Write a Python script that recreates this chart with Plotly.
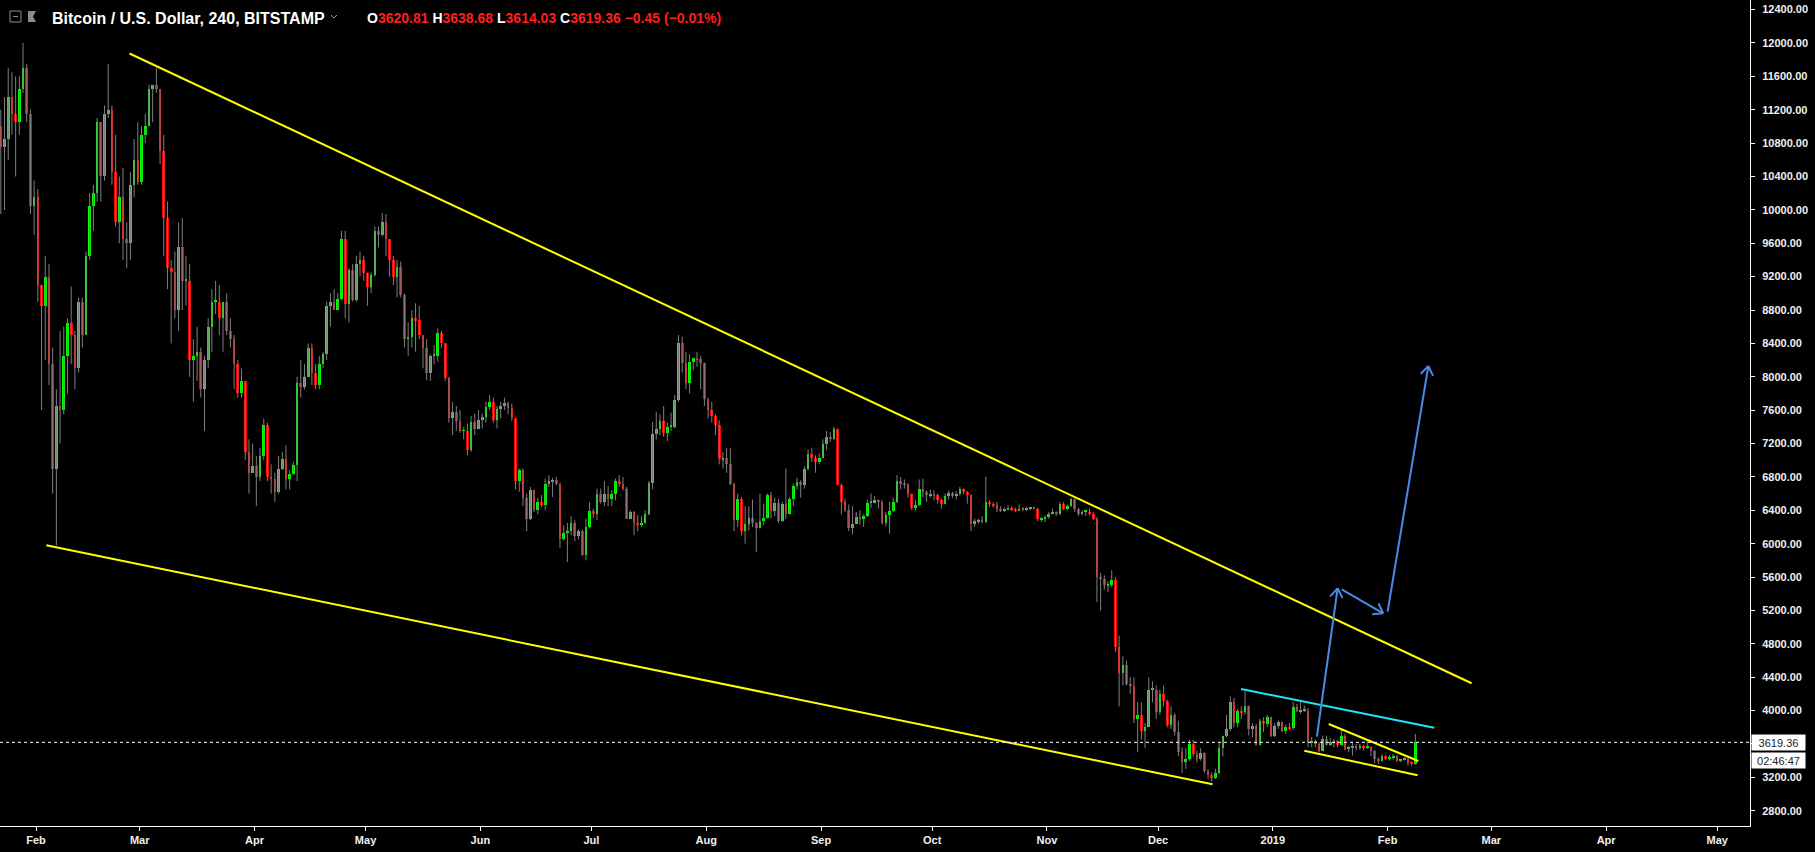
import math
import pandas as pd
import plotly.graph_objects as go

# ---------------- data (daily candles) ----------------
first_day = "2018-01-22 12:00"

opens = [
    [11000,10750,10850,11350,11150,11050,11450,11700,11150,10050],
    [10150,9100,8850,9200,8150,6900,7650,7600,8250,8650,8500,8100,8900,8500,9450,10050,10200,11050,10400,11150,11200,10450,9850,10150,9650,9600,10300,10600],
    [10330,10900,11000,11450,11500,11450,10700,9900,9300,9250,8800,9550,9150,9150,8200,8250,8300,7850,8200,8600,8900,8900,8700,8900,8550,8450,8150,7800,7950,7100,6850],
    [6930,6800,7050,7420,6800,6780,6620,6900,7020,6770,6840,6940,7920,7880,8000,8350,8050,7900,8150,8270,8850,8900,8800,8930,9650,8870,9280,8920,9350,9400],
    [9240,9070,9220,9750,9700,9850,9650,9400,9200,9320,8980,8450,8480,8700,8680,8500,8350,8050,8250,8250,8530,8400,7980,7500,7580,7470,7350,7350,7120,7460,7380],
    [7480,7520,7640,7700,7480,7610,7650,7680,7620,7500,6750,6880,6550,6300,6640,6400,6500,6460,6720,6750,6760,6720,6060,6130,6150,6250,6090,6150,5870,6200],
    [6390,6350,6600,6500,6600,6530,6600,6750,6710,6660,6300,6380,6250,6220,6250,6350,6730,7320,7380,7470,7330,7400,7400,7720,8400,8170,7930,8180,8220,8210,8170],
    [7730,7600,7530,7420,7010,7030,6950,6720,6280,6540,6150,6240,6310,6250,6190,6270,6310,6580,6390,6490,6270,6480,6360,6530,6690,6740,6700,6900,7080,7030,6980],
    [7030,7190,7280,7260,7370,6700,6500,6400,6190,6240,6320,6290,6330,6490,6490,6520,6500,6250,6340,6390,6500,6750,6720,6710,6590,6430,6460,6650,6620,6580],
    [6600,6580,6520,6480,6570,6610,6570,6600,6650,6620,6580,6230,6270,6270,6260,6500,6480,6460,6410,6400,6410,6420,6410,6400,6420,6410,6420,6430,6420,6290,6300],
    [6320,6360,6380,6360,6480,6420,6450,6530,6410,6350,6380,6380,6360,6300,5600,5580,5500,5500,5560,4760,4450,4550,4320,4300,3900,3950,3750,3800,4250,4250],
    [3980,4200,4120,3830,3950,3740,3500,3380,3420,3600,3480,3420,3490,3270,3230,3190,3250,3550,3690,3780,4100,3850,4000,3980,4050,3780,3820,3590,3880,3840,3920],
    [3700,3820,3860,3760,3800,3790,4040,3990,4000,4000,3620,3630,3600,3520,3660,3590,3620,3640,3590,3700,3540,3550,3580,3550,3580,3560,3560,3520,3420,3400,3450],
    [3430,3440,3460,3400,3410,3420,3370,3360],
]
highs = [
    [11200,11350,11700,11650,11600,11600,12000,11750,11200,10350],
    [10250,9100,9450,9350,8350,7850,8550,8600,8700,9080,8550,8950,8950,9500,10200,10300,11100,11050,11250,11750,11250,10900,10400,10500,9850,10450,10850,11050],
    [11000,11150,11500,11500,11700,11450,10900,10100,9400,9500,9850,9900,9450,9350,8450,8600,8350,8250,8700,9050,9150,9100,8900,9000,8700,8500,8200,8100,7950,7250,7200],
    [7050,7150,7500,7450,6950,6850,7050,7100,7180,6880,6980,8000,8200,8150,8400,8400,8150,8250,8300,8900,9000,9050,9000,9750,9750,9300,9350,9450,9500,9450],
    [9250,9250,9800,9800,9960,9950,9650,9450,9400,9380,9000,8650,8800,8880,8850,8500,8450,8270,8380,8580,8550,8400,8000,7700,7650,7600,7400,7440,7530,7560,7600],
    [7560,7700,7780,7750,7650,7700,7750,7700,7680,7500,6900,6900,6600,6680,6650,6550,6580,6780,6820,6790,6800,6730,6220,6250,6330,6280,6170,6170,6300,6500],
    [6420,6660,6660,6750,6690,6640,6780,6820,6800,6680,6400,6390,6340,6330,6400,6750,7460,7580,7550,7650,7450,7570,7780,8500,8480,8300,8270,8230,8300,8250,8170],
    [7750,7700,7550,7480,7100,7150,7150,6730,6600,6560,6450,6450,6530,6260,6600,6480,6600,6620,6550,6530,6500,6900,6560,6720,6790,6760,6930,7130,7150,7060,7080],
    [7250,7350,7340,7400,7380,6720,6540,6470,6450,6380,6400,6350,6530,6600,6570,6530,6520,6380,6500,6550,6820,6800,6770,6720,6600,6520,6770,6780,6640,6650],
    [6640,6600,6540,6600,6640,6620,6630,6680,6660,6630,6590,6300,6300,6330,6800,6520,6500,6500,6450,6430,6460,6450,6430,6470,6440,6440,6440,6440,6430,6320,6340],
    [6380,6420,6390,6500,6500,6470,6550,6540,6430,6400,6400,6420,6380,6320,5650,5620,5550,5680,5600,4900,4650,4600,4400,4400,4100,4100,3850,4400,4350,4300],
    [4250,4300,4130,4050,3970,3880,3560,3550,3650,3650,3520,3550,3500,3300,3260,3300,3620,3700,3950,4170,4150,4020,4050,4230,4060,3850,3840,3900,3920,3950,3930],
    [3850,3880,3870,3830,3850,4100,4080,4100,4060,4030,3680,3650,3620,3700,3700,3670,3660,3650,3770,3720,3580,3620,3600,3600,3590,3650,3570,3530,3440,3480,3470],
    [3470,3480,3470,3420,3440,3430,3390,3720],
]
lows = [
    [9950,10000,10600,10900,10400,10900,11400,11050,9950,9700],
    [8900,7600,8200,7900,6600,5980,7200,7550,7800,8150,7850,8050,8350,8500,9400,9750,10100,10100,10350,11100,10300,9800,9600,9400,9300,9400,10150,10300],
    [10300,10800,11000,11050,11400,10550,9450,9050,8400,8700,8550,8800,8850,8000,7700,7950,7750,7350,8100,8300,8750,8500,8300,8500,8350,7850,7750,7750,7000,6600,6850],
    [6450,6750,7000,6750,6600,6500,6600,6880,6650,6650,6830,6750,7750,7850,8000,7900,7850,7850,8100,8200,8600,8800,8800,8920,8700,8650,8900,8900,9200,9150],
    [8850,9000,9200,9550,9680,9450,9200,9100,8950,8950,8350,8250,8350,8300,8450,8100,7960,7950,8150,8180,8350,7950,7450,7300,7350,7330,7250,7060,7100,7300,7370],
    [7380,7450,7600,7450,7380,7500,7600,7550,7470,6650,6620,6450,6150,6280,6380,6350,6440,6400,6680,6560,6700,5950,6040,5780,6100,6030,6050,5850,5800,6180],
    [6300,6280,6480,6450,6450,6450,6520,6680,6640,6300,6300,6100,6150,6200,6240,6340,6650,7250,7300,7280,7230,7350,7380,7700,8050,7850,7800,8080,8120,7850,7650],
    [7500,7450,7300,6950,6900,6850,6700,6150,6200,6100,6000,6160,6200,5900,6180,6220,6300,6300,6330,6250,6260,6300,6350,6450,6650,6550,6660,6880,6980,6850,6950],
    [7020,7120,7220,7240,6700,6350,6380,6150,6110,6240,6230,6200,6320,6430,6480,6420,6230,6210,6120,6380,6490,6650,6660,6550,6400,6400,6450,6560,6500,6550],
    [6520,6480,6420,6470,6530,6550,6530,6580,6590,6480,6150,6200,6240,6240,6250,6440,6430,6380,6380,6380,6400,6390,6380,6390,6390,6390,6400,6410,6270,6260,6260],
    [6300,6350,6330,6340,6400,6400,6440,6380,6330,6340,6330,6340,6280,5300,5200,5450,5420,5480,4700,4050,4300,4300,4200,3850,3500,3650,3550,3800,4100,3900],
    [3950,4050,3800,3780,3700,3450,3250,3300,3400,3450,3380,3400,3250,3180,3150,3180,3240,3450,3680,3750,3800,3800,3900,3950,3700,3680,3580,3580,3740,3800,3680],
    [3680,3780,3740,3720,3770,3770,3980,3960,3980,3560,3560,3560,3500,3510,3580,3580,3560,3560,3580,3520,3500,3460,3520,3530,3520,3540,3450,3370,3360,3390,3410],
    [3400,3410,3380,3380,3400,3340,3340,3350],
]
closes = [
    [10750,10850,11350,11150,11050,11450,11700,11150,10050,10150],
    [9100,8850,9200,8150,6900,7650,7600,8250,8650,8500,8100,8900,8500,9450,10050,10200,11050,10400,11150,11200,10450,9850,10150,9650,9600,10300,10600,10330],
    [10900,11000,11450,11500,11450,10700,9900,9300,9250,8800,9550,9150,9150,8200,8250,8300,7850,8200,8600,8900,8900,8700,8900,8550,8450,8150,7800,7950,7100,6850,6930],
    [6800,7050,7420,6800,6780,6620,6900,7020,6770,6840,6940,7920,7880,8000,8350,8050,7900,8150,8270,8850,8900,8800,8930,9650,8870,9280,8920,9350,9400,9240],
    [9070,9220,9750,9700,9850,9650,9400,9200,9320,8980,8450,8480,8700,8680,8500,8350,8050,8250,8250,8530,8400,7980,7500,7580,7470,7350,7350,7120,7460,7380,7480],
    [7520,7640,7700,7480,7610,7650,7680,7620,7500,6750,6880,6550,6300,6640,6400,6500,6460,6720,6750,6760,6720,6060,6130,6150,6250,6090,6150,5870,6200,6390],
    [6350,6600,6500,6600,6530,6600,6750,6710,6660,6300,6380,6250,6220,6250,6350,6730,7320,7380,7470,7330,7400,7400,7720,8400,8170,7930,8180,8220,8210,8170,7730],
    [7600,7530,7420,7010,7030,6950,6720,6280,6540,6150,6240,6310,6250,6190,6270,6310,6580,6390,6490,6270,6480,6360,6530,6690,6740,6700,6900,7080,7030,6980,7030],
    [7190,7280,7260,7370,6700,6500,6400,6190,6240,6320,6290,6330,6490,6490,6520,6500,6250,6340,6390,6500,6750,6720,6710,6590,6430,6460,6650,6620,6580,6600],
    [6580,6520,6480,6570,6610,6570,6600,6650,6620,6580,6230,6270,6270,6260,6500,6480,6460,6410,6400,6410,6420,6410,6400,6420,6410,6420,6430,6420,6290,6300,6320],
    [6360,6380,6360,6480,6420,6450,6530,6410,6350,6380,6380,6360,6300,5600,5580,5500,5500,5560,4760,4450,4550,4320,4300,3900,3950,3750,3800,4250,4250,3980],
    [4200,4120,3830,3950,3740,3500,3380,3420,3600,3480,3420,3490,3270,3230,3190,3250,3550,3690,3780,4100,3850,4000,3980,4050,3780,3820,3590,3880,3840,3920,3700],
    [3820,3860,3760,3800,3790,4040,3990,4000,4000,3620,3630,3600,3520,3660,3590,3620,3640,3590,3700,3540,3550,3580,3550,3580,3560,3560,3520,3420,3400,3450,3430],
    [3440,3460,3400,3410,3420,3370,3360,3619.36],
]

last_price = 3619.36
countdown = "02:46:47"

# month tick labels
month_ticks = ["2018-02-01", "2018-03-01", "2018-04-01", "2018-05-01", "2018-06-01", "2018-07-01",
               "2018-08-01", "2018-09-01", "2018-10-01", "2018-11-01", "2018-12-01", "2019-01-01",
               "2019-02-01", "2019-03-01", "2019-04-01", "2019-05-01"]
month_labels = ["Feb", "Mar", "Apr", "May", "Jun", "Jul", "Aug", "Sep", "Oct", "Nov", "Dec", "2019",
                "Feb", "Mar", "Apr", "May"]
price_ticks = [2800, 3200, 3600, 4000, 4400, 4800, 5200, 5600, 6000, 6400, 6800, 7200, 7600,
               8000, 8400, 8800, 9200, 9600, 10000, 10400, 10800, 11200, 11600, 12000, 12400]

# drawings (anchor points: date, price)
wedge_top_dates = ["2018-02-26 06:00", "2019-02-23 16:00"]
wedge_top_prices = [11874, 4327]
wedge_bottom_dates = ["2018-02-03 18:40", "2018-12-15 17:00"]
wedge_bottom_prices = [5981, 3116]
cyan_dates = ["2018-12-23 10:00", "2019-02-13 14:00"]
cyan_prices = [4258, 3795]
flag_top_dates = ["2019-01-16 02:24", "2019-02-09 07:12"]
flag_top_prices = [3839, 3396]
flag_bottom_dates = ["2019-01-09 12:00", "2019-02-09 02:24"]
flag_bottom_prices = [3519, 3224]
arrow_dates = [["2019-01-12 21:36", "2019-01-18 12:00"],
               ["2019-01-19 14:24", "2019-01-30 19:12"],
               ["2019-02-01 00:00", "2019-02-12 00:00"]]
arrow_prices = [[3689, 5465], [5453, 5165], [5185, 8129]]

# ---------------- figure geometry ----------------
W, H = 1815, 852
PW, PH = 1750, 826           # plot area (pixels)
X0 = pd.Timestamp("2018-01-22 06:40")
X1 = pd.Timestamp("2019-05-09 20:40")
Y0, Y1 = 2616.7, 12514.8

flat = lambda nested: [v for row in nested for v in row]
O, Hh, L, C = flat(opens), flat(highs), flat(lows), flat(closes)
n = min(len(O), len(Hh), len(L), len(C))
dates = pd.date_range(first_day, periods=n, freq="D")

GREEN, RED, GREY = "#00ff00", "#ff0000", "#7f7f7f"
YELLOW, CYAN, BLUE = "#ffff00", "#1ee6ff", "#4d8ae8"

fig = go.Figure()

# wicks
wx, wy = [], []
for d, h, l in zip(dates, Hh[:n], L[:n]):
    wx += [d, d, None]
    wy += [l, h, None]
fig.add_trace(go.Scatter(x=wx, y=wy, mode="lines", line=dict(color=GREY, width=1),
                         hoverinfo="skip", showlegend=False))

# bodies
base = [min(o, c) for o, c in zip(O[:n], C[:n])]
height = [max(abs(c - o), 12) for o, c in zip(O[:n], C[:n])]
colors = [GREEN if c >= o else RED for o, c in zip(O[:n], C[:n])]
fig.add_trace(go.Bar(x=dates, y=height, base=base, width=0.72 * 86400000,
                     marker=dict(color=colors, line=dict(width=0)),
                     hoverinfo="skip", showlegend=False))

shapes = []


def seg(xs, ys, color, width=2):
    shapes.append(dict(type="line", xref="x", yref="y", x0=xs[0], y0=ys[0], x1=xs[1], y1=ys[1],
                       line=dict(color=color, width=width), layer="above"))


seg(wedge_top_dates, wedge_top_prices, YELLOW)
seg(wedge_bottom_dates, wedge_bottom_prices, YELLOW)
seg(cyan_dates, cyan_prices, CYAN)
seg(flag_top_dates, flag_top_prices, YELLOW)
seg(flag_bottom_dates, flag_bottom_prices, YELLOW)


def to_px(d, p):
    t = (pd.Timestamp(d) - X0) / (X1 - X0) * PW
    return t, PH - (p - Y0) / (Y1 - Y0) * PH


def from_px(px, py):
    return X0 + (X1 - X0) * (px / PW), Y0 + (PH - py) / PH * (Y1 - Y0)


for ds, ps in zip(arrow_dates, arrow_prices):
    seg(ds, ps, BLUE)
    sx, sy = to_px(ds[0], ps[0])
    tx, ty = to_px(ds[1], ps[1])
    ln = math.hypot(tx - sx, ty - sy)
    ux, uy = (sx - tx) / ln, (sy - ty) / ln
    for ang in (35, -35):
        a = math.radians(ang)
        rx = ux * math.cos(a) - uy * math.sin(a)
        ry = ux * math.sin(a) + uy * math.cos(a)
        ed, ep = from_px(tx + 11 * rx, ty + 11 * ry)
        seg([ds[1], ed], [ps[1], ep], BLUE)

# last price dotted line
shapes.append(dict(type="line", xref="paper", yref="y", x0=0, x1=1, y0=last_price, y1=last_price,
                   line=dict(color="#ffffff", width=1, dash="dot"), layer="above"))


def pp(x, y):
    return x / PW, 1 - y / PH


# header icons
ax0, ay0 = pp(10, 11)
ax1, ay1 = pp(21, 22)
shapes.append(dict(type="rect", xref="paper", yref="paper", x0=ax0, y0=ay0, x1=ax1, y1=ay1,
                   line=dict(color="#8c8c8c", width=1)))
mx0, my = pp(13, 16.5)
mx1, _ = pp(18, 16.5)
shapes.append(dict(type="line", xref="paper", yref="paper", x0=mx0, y0=my, x1=mx1, y1=my,
                   line=dict(color="#8c8c8c", width=1)))
fx = [pp(28, 11), pp(36, 11), pp(33, 16.5), pp(36, 22), pp(28, 22)]
shapes.append(dict(type="path", xref="paper", yref="paper",
                   path="M " + " L ".join(f"{a},{b}" for a, b in fx) + " Z",
                   fillcolor="#8c8c8c", line=dict(width=0)))
cv = [pp(331, 15), pp(334, 18), pp(337, 15)]
shapes.append(dict(type="path", xref="paper", yref="paper",
                   path="M " + " L ".join(f"{a},{b}" for a, b in cv),
                   line=dict(color="#9a9a9a", width=1)))

annotations = []
FONT = "Liberation Sans"
annotations.append(dict(xref="paper", yref="paper", x=50 / PW, y=1, yshift=-18, xanchor="left",
                        yanchor="middle", showarrow=False,
                        text="Bitcoin / U.S. Dollar, 240, BITSTAMP",
                        font=dict(family=FONT, size=16, color="#ffffff", weight="bold")))
R = "#ff1f1f"
ohlc = (f"O<span style='color:{R}'>3620.81</span> H<span style='color:{R}'>3638.68</span> "
        f"L<span style='color:{R}'>3614.03</span> C<span style='color:{R}'>{last_price:.2f}</span> "
        f"<span style='color:{R}'>\u22120.45 (\u22120.01%)</span>")
annotations.append(dict(xref="paper", yref="paper", x=365 / PW, y=1, yshift=-18, xanchor="left",
                        yanchor="middle", showarrow=False, text=ohlc,
                        font=dict(family=FONT, size=14, color="#ffffff", weight="bold")))
annotations.append(dict(xref="paper", yref="y", x=1751 / PW, y=last_price, xanchor="left",
                        yanchor="middle", showarrow=False, text=f"{last_price:.2f}",
                        bgcolor="#ffffff", width=53, height=15, borderpad=0,
                        font=dict(family=FONT, size=11, color="#222222")))
annotations.append(dict(xref="paper", yref="y", x=1751 / PW, y=last_price, yshift=-18,
                        xanchor="left", yanchor="middle", showarrow=False, text=countdown,
                        bgcolor="#ffffff", width=53, height=15, borderpad=0,
                        font=dict(family=FONT, size=11, color="#222222")))

fig.update_layout(
    width=W, height=H,
    margin=dict(l=0, r=W - PW, t=0, b=H - PH, pad=0),
    paper_bgcolor="#000000", plot_bgcolor="#000000",
    showlegend=False, hovermode=False, bargap=0,
    shapes=shapes, annotations=annotations,
    xaxis=dict(type="date", range=[X0, X1], showgrid=False, zeroline=False,
               showline=True, linecolor="#ffffff", linewidth=1,
               ticks="outside", ticklen=4, tickcolor="#ffffff", tickwidth=1,
               tickvals=month_ticks, ticktext=month_labels,
               tickfont=dict(family=FONT, size=11, color="#f0f0f0", weight="bold"),
               automargin=False),
    yaxis=dict(side="right", range=[Y0, Y1], showgrid=False, zeroline=False,
               showline=True, linecolor="#ffffff", linewidth=1,
               ticks="outside", ticklen=4, tickcolor="#ffffff", tickwidth=1,
               tickvals=price_ticks, ticktext=[f"{v:.2f}" for v in price_ticks],
               ticklabelstandoff=5,
               tickfont=dict(family=FONT, size=11, color="#f0f0f0", weight="bold"),
               automargin=False),
)

fig.write_html("out.html", config={"displayModeBar": False},
               post_script="document.body.style.margin='0px';document.body.style.background='#000';")
